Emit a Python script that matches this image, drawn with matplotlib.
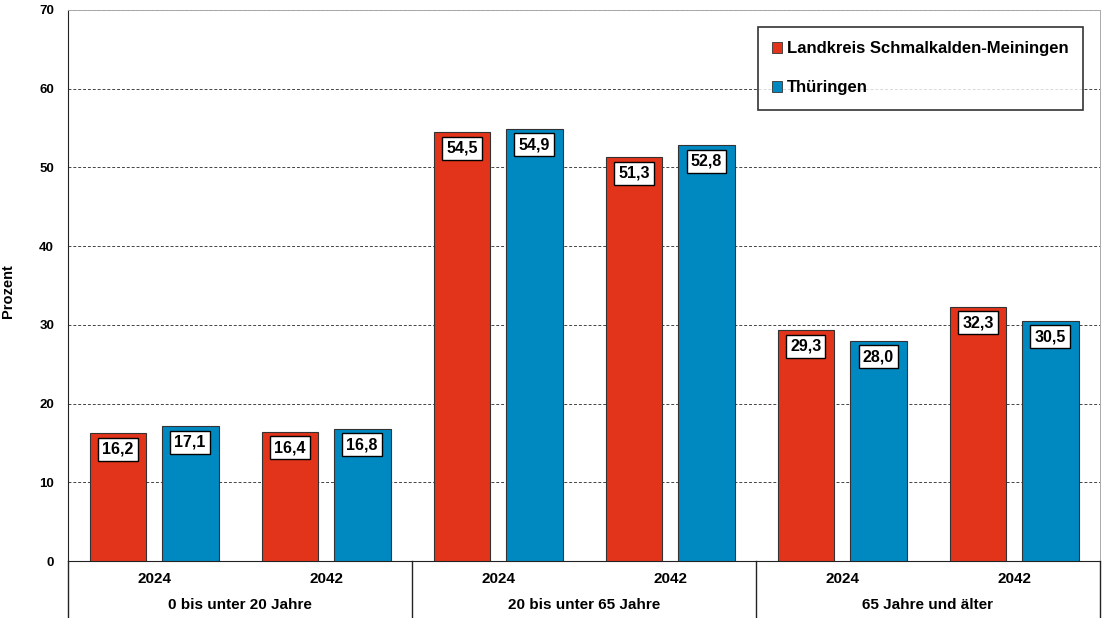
import matplotlib
matplotlib.use('Agg')
from matplotlib import pyplot as plt
from matplotlib.patches import Patch
import numpy as np

plt.rcParams['font.family'] = ['Liberation Sans', 'DejaVu Sans']
plt.rcParams['font.weight'] = 'bold'

years = ['2024', '2042', '2024', '2042', '2024', '2042']
groups = ['0 bis unter 20 Jahre', '20 bis unter 65 Jahre', '65 Jahre und älter']
kreis = [16.2, 16.4, 54.5, 51.3, 29.3, 32.3]
thueringen = [17.1, 16.8, 54.9, 52.8, 28.0, 30.5]
series_names = ['Landkreis Schmalkalden-Meiningen', 'Thüringen']
red = '#E2341A'
blue = '#0088C1'

W, H = 1104, 618
fig = plt.figure(figsize=(W / 100, H / 100), dpi=100)
ax = fig.add_axes([68 / W, (H - 561) / H, (1100 - 68) / W, (561 - 10) / H])

x = np.arange(len(years))
off, bw = 0.21, 0.33
b1 = ax.bar(x - off, kreis, bw, color=red, edgecolor='#333333', linewidth=0.8, zorder=3)
b2 = ax.bar(x + off, thueringen, bw, color=blue, edgecolor='#333333', linewidth=0.8, zorder=3)

for bars, vals in ((b1, kreis), (b2, thueringen)):
    for rect, v in zip(bars, vals):
        ax.annotate(f'{v:.1f}'.replace('.', ','),
                    (rect.get_x() + rect.get_width() / 2, v),
                    xytext=(0, -16), textcoords='offset pixels',
                    ha='center', va='center', fontsize=11.5, fontweight='bold', zorder=5,
                    bbox=dict(boxstyle='square,pad=0.25', fc='white', ec='black', lw=1))

ax.set_xlim(-0.5, len(years) - 0.5)
ax.set_ylim(0, 70)
ax.set_yticks(range(0, 71, 10))
ax.tick_params(axis='y', labelsize=9.5, length=0, pad=10)
ax.set_xticks([])
for t in ax.get_yticklabels():
    t.set_fontweight('bold')
ax.yaxis.grid(True, linestyle=(0, (3, 2)), color='#444444', linewidth=0.7, zorder=0)
ax.set_ylabel('Prozent', fontsize=10.5, fontweight='bold')
ax.yaxis.set_label_coords(-0.051, 0.49)

ax.spines['left'].set_color('#222222')
ax.spines['bottom'].set_color('#222222')
ax.spines['top'].set_color('#aaaaaa')
ax.spines['right'].set_color('#aaaaaa')
ax.spines['top'].set_linewidth(0.7)
ax.spines['right'].set_linewidth(0.7)

# category axis below the plot
trans = ax.get_xaxis_transform()
for i, yr in enumerate(years):
    ax.text(i, -0.033, yr, transform=trans, ha='center', va='center', fontsize=11, fontweight='bold')
for g, name in enumerate(groups):
    ax.text(2 * g + 0.5, -0.08, name, transform=trans, ha='center', va='center', fontsize=11, fontweight='bold')
for xs in (-0.5, 1.5, 3.5, 5.5):
    ax.plot([xs, xs], [0, -0.11], transform=trans, color='#222222', lw=1, clip_on=False)

handles = [Patch(facecolor=red, edgecolor='#333333', lw=0.6), Patch(facecolor=blue, edgecolor='#333333', lw=0.6)]
leg = ax.legend(handles, series_names, loc='upper right', bbox_to_anchor=(0.9835, 0.969),
                fontsize=12, frameon=True, fancybox=False, edgecolor='black',
                handlelength=0.6, handleheight=0.6, handletextpad=0.3, labelspacing=1.45,
                borderpad=0.85, borderaxespad=0)
leg.get_frame().set_linewidth(1.2)
for t in leg.get_texts():
    t.set_fontweight('bold')
leg.set_zorder(6)

fig.savefig('out.png', dpi=100)
plt.close()
